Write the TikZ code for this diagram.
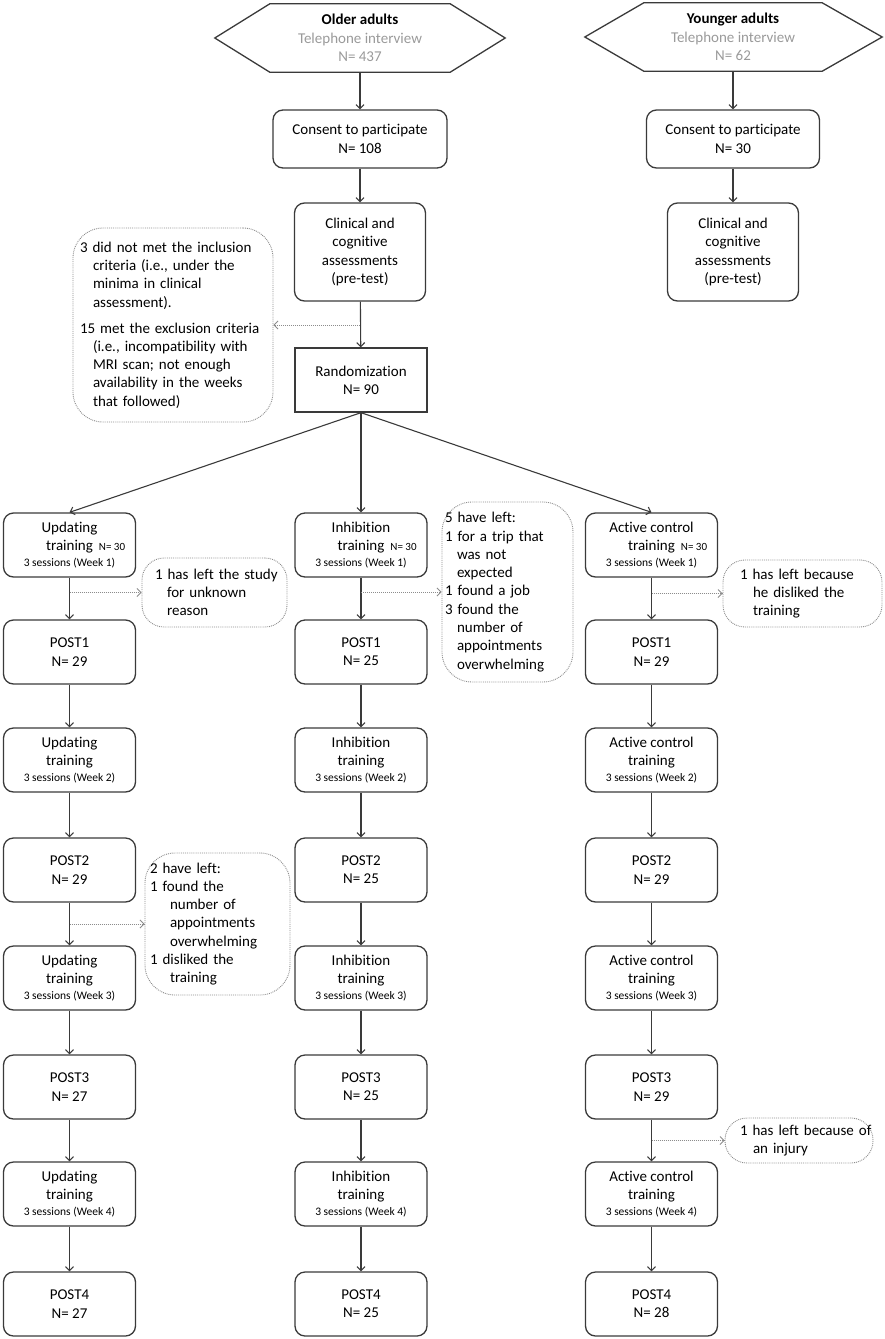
\documentclass[tikz,border=0pt]{standalone}
\usepackage{fontspec}
\setmainfont{Carlito}[Ligatures={NoCommon}]
\usetikzlibrary{arrows.meta,calc}
\definecolor{ln}{HTML}{3A3A3A}
\definecolor{tgray}{HTML}{9A9A9A}
\definecolor{ngray}{HTML}{8C8C8C}
\newcommand{\sm}[1]{{\fontsize{11.5}{13.8}\selectfont #1}}
\newcommand{\nsm}[1]{\rlap{\hspace{6pt}\fontsize{11}{13}\selectfont #1}}
\newcommand{\ol}[1]{\mbox{#1}}
\begin{document}
\begin{tikzpicture}[x=1pt,y=-1pt,
  font=\fontsize{15}{18.3}\selectfont,
  boxline/.style={draw=ln,line width=1.3pt},
  box/.style={boxline,rounded corners=10pt,align=center,inner sep=0pt,
    minimum width=133pt,minimum height=64pt},
  sqbox/.style={boxline,align=center,inner sep=0pt,
    minimum width=132pt,minimum height=64pt},
  hexnode/.style={align=center,inner sep=0pt,minimum height=68pt},
  note/.style={draw=ngray,densely dotted,line width=0.9pt,rounded corners=22pt,
    align=left,inner ysep=0pt},
  bignote/.style={note,rounded corners=30pt},
  arr/.style={draw=ln,line width=1.1pt,-{Straight Barb[length=4pt,width=8pt]}},
  sidearr/.style={draw=ngray,line width=1pt,densely dotted,
    -{Straight Barb[length=4pt,width=8pt,line width=0.8pt]}}
]
\useasboundingbox (0,0) rectangle (885,1339);

% ---- top: older adults
\node[hexnode,minimum width=180pt] (old) at (360,38)
  {\textbf{Older adults}\\\textcolor{tgray}{Telephone interview}\\\textcolor{tgray}{N= 437}};
\draw[boxline] (old.north west) -- (old.north east) -- ($(old.east)+(55,0)$)
  -- (old.south east) -- (old.south west) -- ($(old.west)+(-55,0)$) -- cycle;
\node[box,minimum width=174pt,minimum height=58pt] (conO) at (360,139)
  {Consent to participate\\N= 108};
\node[box,minimum width=131pt,minimum height=98pt] (cliO) at (360,252)
  {Clinical and\\cognitive\\assessments\\(pre-test)};
\node[sqbox] (rand) at (361,380) {Randomization\\N= 90};

% ---- top: younger adults
\node[hexnode,minimum width=178pt] (yng) at (733,37)
  {\textbf{Younger adults}\\\textcolor{tgray}{Telephone interview}\\\textcolor{tgray}{N= 62}};
\draw[boxline] (yng.north west) -- (yng.north east) -- ($(yng.east)+(60,0)$)
  -- (yng.south east) -- (yng.south west) -- ($(yng.west)+(-59,0)$) -- cycle;
\node[box,minimum width=173pt,minimum height=58pt] (conY) at (733,139)
  {Consent to participate\\N= 30};
\node[box,minimum width=131pt,minimum height=98pt] (cliY) at (733,252)
  {Clinical and\\cognitive\\assessments\\(pre-test)};

% exclusion note
\node[bignote,minimum width=200pt,minimum height=194pt,text width=186pt,inner xsep=7pt] (exc) at (173,325)
  {\ol{3 did not met the inclusion}\\
   \ol{\hspace*{13pt}criteria (i.e., under the}\\
   \ol{\hspace*{13pt}minima in clinical}\\
   \ol{\hspace*{13pt}assessment).}\\[7.7pt]
   \ol{15 met the exclusion criteria}\\
   \ol{\hspace*{13pt}(i.e., incompatibility with}\\
   \ol{\hspace*{13pt}MRI scan; not enough}\\
   \ol{\hspace*{13pt}availability in the weeks}\\
   \ol{\hspace*{13pt}that followed)}};

% ---- three arms
\foreach \c/\x/\nm in {A/69.5/Updating, B/361/Inhibition, C/651.5/Active control}{
  \node[box,minimum width=132pt] (t\c1) at (\x,545)
    {\nm\\training\nsm{N= 30}\\[-2.5pt]\sm{3 sessions (Week 1)}};
  \node[box,minimum width=132pt] (t\c2) at (\x,760)
    {\nm\\training\\[-2.5pt]\sm{3 sessions (Week 2)}};
  \node[box,minimum width=132pt] (t\c3) at (\x,978)
    {\nm\\training\\[-2.5pt]\sm{3 sessions (Week 3)}};
  \node[box,minimum width=132pt] (t\c4) at (\x,1194)
    {\nm\\training\\[-2.5pt]\sm{3 sessions (Week 4)}};
}
\node[box,minimum width=132pt] (pA1) at (69.5,652) {POST1\\N= 29};
\node[box,minimum width=132pt] (pA2) at (69.5,870) {POST2\\N= 29};
\node[box,minimum width=132pt] (pA3) at (69.5,1087) {POST3\\N= 27};
\node[box,minimum width=132pt] (pA4) at (69.5,1304) {POST4\\N= 27};
\node[box,minimum width=132pt] (pB1) at (361,652) {POST1\\N= 25};
\node[box,minimum width=132pt] (pB2) at (361,870) {POST2\\N= 25};
\node[box,minimum width=132pt] (pB3) at (361,1087) {POST3\\N= 25};
\node[box,minimum width=132pt] (pB4) at (361,1304) {POST4\\N= 25};
\node[box,minimum width=132pt] (pC1) at (651.5,652) {POST1\\N= 29};
\node[box,minimum width=132pt] (pC2) at (651.5,870) {POST2\\N= 29};
\node[box,minimum width=132pt] (pC3) at (651.5,1087) {POST3\\N= 29};
\node[box,minimum width=132pt] (pC4) at (651.5,1304) {POST4\\N= 28};

% side notes
\node[note,minimum width=145pt,minimum height=69pt,text width=119pt,inner xsep=13pt] (n1) at (214.5,592.5)
  {\ol{1 has left the study}\\\ol{\hspace*{12pt}for unknown}\\\ol{\hspace*{12pt}reason}};
\node[bignote,minimum width=131pt,minimum height=180pt,text width=125pt,inner xsep=3pt] (n2) at (507.5,592)
  {\ol{5 have left:}\\\ol{1 for a trip that}\\\ol{\hspace*{12pt}was not}\\\ol{\hspace*{12pt}expected}\\
   \ol{1 found a job}\\\ol{3 found the}\\\ol{\hspace*{12pt}number of}\\\ol{\hspace*{12pt}appointments}\\
   \ol{\hspace*{12pt}overwhelming}};
\node[note,minimum width=159pt,minimum height=67pt,text width=125pt,inner xsep=17pt] (n3) at (802.5,593.5)
  {\ol{1 has left because}\\\ol{\hspace*{13pt}he disliked the}\\\ol{\hspace*{13pt}training}};
\node[bignote,minimum width=145pt,minimum height=142pt,text width=135pt,inner xsep=5pt] (n4) at (217.5,924)
  {\ol{2 have left:}\\\ol{1 found the}\\\ol{\hspace*{20pt}number of}\\\ol{\hspace*{20pt}appointments}\\
   \ol{\hspace*{20pt}overwhelming}\\\ol{1 disliked the}\\\ol{\hspace*{20pt}training}};
\node[note,minimum width=148pt,minimum height=45pt,text width=118pt,inner xsep=15pt] (n5) at (799,1140.5)
  {\ol{1 has left because of}\\\ol{\hspace*{13pt}an injury}};

% ---- connectors
\draw[arr] (old) -- (conO);
\draw[arr] (conO) -- (cliO);
\draw[arr] (cliO) -- (rand);
\draw[arr] (yng) -- (conY);
\draw[arr] (conY) -- (cliY);
\draw[sidearr] (cliO.south |- exc.east) -- (exc.east);
\draw[arr] (rand.south) -- (tA1.north);
\draw[arr] (rand.south) -- (tB1.north);
\draw[arr] (rand.south) -- (tC1.north);
\foreach \c in {A,B,C}{
  \draw[arr] (t\c1) -- (p\c1);
  \draw[arr] (p\c1) -- (t\c2);
  \draw[arr] (t\c2) -- (p\c2);
  \draw[arr] (p\c2) -- (t\c3);
  \draw[arr] (t\c3) -- (p\c3);
  \draw[arr] (p\c3) -- (t\c4);
  \draw[arr] (t\c4) -- (p\c4);
}
\draw[sidearr] (tA1.south |- n1.west) -- (n1.west);
\draw[sidearr] (tB1.south |- n2.west) -- (n2.west);
\draw[sidearr] (tC1.south |- n3.west) -- (n3.west);
\draw[sidearr] (pA2.south |- n4.west) -- (n4.west);
\draw[sidearr] (pC3.south |- n5.west) -- (n5.west);
\end{tikzpicture}
\end{document}
